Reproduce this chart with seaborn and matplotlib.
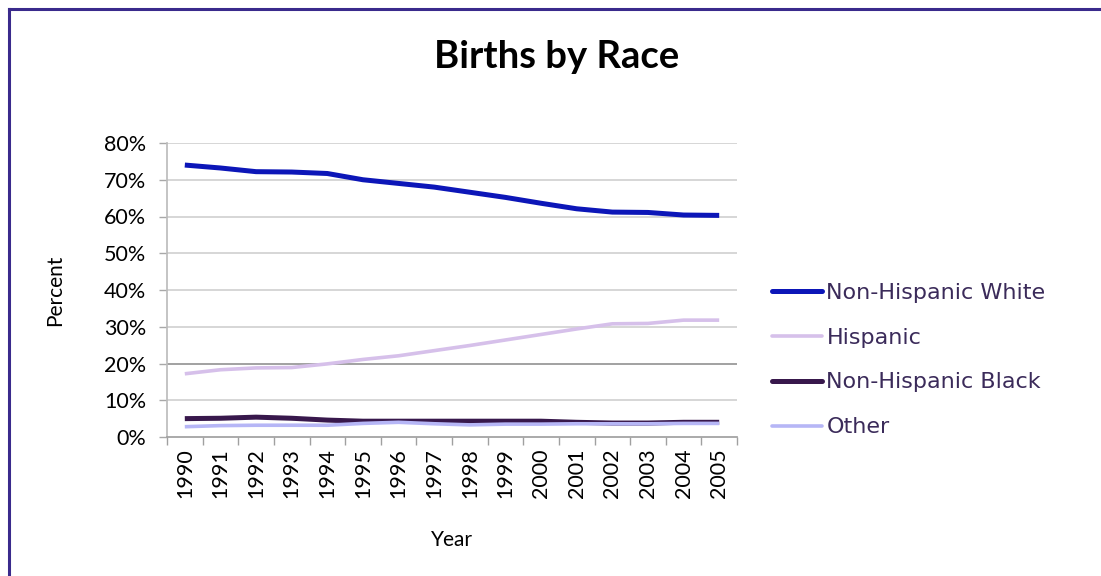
import numpy as np
import pandas as pd
import matplotlib
matplotlib.use("Agg")
import matplotlib.pyplot as plt
import seaborn as sns
from matplotlib.lines import Line2D
from matplotlib.ticker import FixedLocator, PercentFormatter

years = [str(y) for y in range(1990, 2006)]
nh_white = [74.0, 73.2, 72.2, 72.1, 71.7, 70.0, 69.0, 68.0, 66.6, 65.2, 63.6, 62.1, 61.2, 61.1, 60.4, 60.3]
hispanic = [17.2, 18.3, 18.8, 18.9, 19.9, 21.1, 22.1, 23.5, 24.9, 26.4, 27.9, 29.4, 30.8, 30.9, 31.8, 31.8]
nh_black = [5.0, 5.1, 5.4, 5.1, 4.6, 4.3, 4.3, 4.3, 4.3, 4.3, 4.3, 4.0, 3.8, 3.8, 4.0, 4.0]
other = [2.8, 3.1, 3.2, 3.2, 3.2, 3.7, 4.0, 3.6, 3.3, 3.5, 3.5, 3.6, 3.6, 3.6, 3.7, 3.7]
series_names = ["Non-Hispanic White", "Hispanic", "Non-Hispanic Black", "Other"]
y_ticks = [0, 10, 20, 30, 40, 50, 60, 70, 80]

df = pd.DataFrame({
    "Year": years * 4,
    "Percent": nh_white + hispanic + nh_black + other,
    "Race": sum([[n] * len(years) for n in series_names], []),
})

sns.set_theme(style="white")
plt.rcParams["font.family"] = ["Lato", "DejaVu Sans"]

palette = {"Non-Hispanic White": "#0c16b8", "Hispanic": "#d6c0ea",
           "Non-Hispanic Black": "#38184c", "Other": "#b6b6f6"}
widths = {"Non-Hispanic White": 3.6, "Hispanic": 2.6,
          "Non-Hispanic Black": 3.6, "Other": 2.6}

fig = plt.figure(figsize=(11.01, 5.76), dpi=100)
ax = fig.add_axes([167 / 1101, 1 - 437 / 576, 570 / 1101, 294 / 576])

sns.lineplot(data=df, x="Year", y="Percent", hue="Race", palette=palette,
             hue_order=series_names, ax=ax, legend=False, sort=False)
for line, name in zip(ax.get_lines(), series_names):
    line.set_linewidth(widths[name])
    line.set_solid_capstyle("butt")
    line.set_solid_joinstyle("round")

ax.set_xlim(-0.5, len(years) - 0.5)
ax.set_ylim(0, 80)
ax.set_yticks(y_ticks)
ax.yaxis.set_major_formatter(PercentFormatter(decimals=0))
ax.set_xticks(range(len(years)))
ax.set_xticklabels(years, rotation=90)
ax.xaxis.set_minor_locator(FixedLocator(np.arange(-0.5, len(years), 1.0)))
ax.tick_params(axis="x", which="major", length=0, pad=8, labelsize=15.5, colors="black")
ax.tick_params(axis="x", which="minor", length=6, width=1, color="#a0a0a0", bottom=True)
ax.tick_params(axis="y", which="major", length=6, width=1, color="#a8a8a8",
               left=True, labelsize=15.5, pad=9, labelcolor="black")

for yv in y_ticks[1:]:
    ax.axhline(yv, color="#888888" if yv == 20 else "#cccccc", lw=1.1, zorder=0)
for s in ["top", "right"]:
    ax.spines[s].set_visible(False)
ax.spines["left"].set_color("#bdbdbd")
ax.spines["bottom"].set_color("#a0a0a0")
ax.grid(False)

ax.set_xlabel("Year", fontsize=15, color="black", labelpad=23)
ax.set_ylabel("Percent", fontsize=15, color="black", labelpad=28)

fig.text(557 / 1101, 1 - 57 / 576, "Births by Race", ha="center", va="center",
         fontsize=27.5, fontweight="bold", color="black")

handles = [Line2D([0], [0], color=palette[n], lw=widths[n]) for n in series_names]
fig.legend(handles, series_names, loc="center left",
           bbox_to_anchor=(772 / 1101, 1 - 360 / 576), frameon=False,
           borderaxespad=0, borderpad=0,
           prop={"family": "DejaVu Sans", "size": 16}, labelcolor="#3b2b5a",
           handlelength=2.25, handletextpad=0.2, labelspacing=1.12)

fig.add_artist(Line2D([9 / 1101, 9 / 1101], [0, 1 - 9 / 576], transform=fig.transFigure,
                      color="#3a2a8c", lw=2.2, solid_capstyle="projecting"))
fig.add_artist(Line2D([9 / 1101, 1], [1 - 9 / 576, 1 - 9 / 576], transform=fig.transFigure,
                      color="#3a2a8c", lw=2.2, solid_capstyle="projecting"))

fig.savefig("out.png", dpi=100)
